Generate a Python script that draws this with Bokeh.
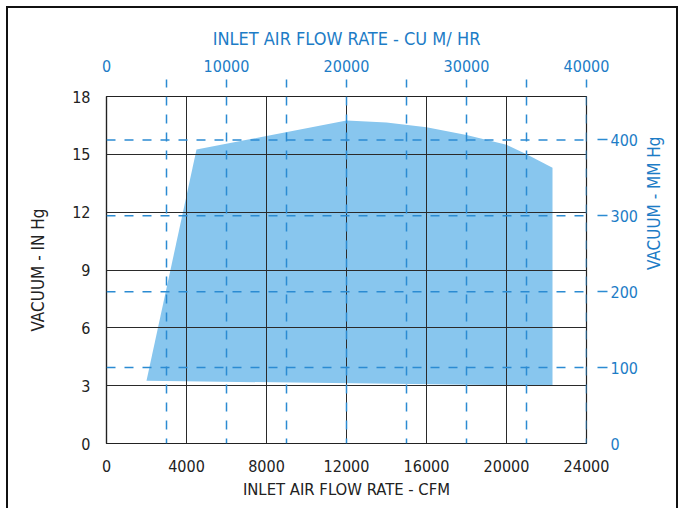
import math
from bokeh.plotting import figure
from bokeh.models import Range1d, LinearAxis, FixedTicker, Span
from bokeh.embed import file_html
from bokeh.resources import INLINE

# ---- data ----
cfm = [2000, 4500, 8000, 12000, 14000, 16000, 18000, 20000, 21000, 22300, 22300]
vacuum_inhg = [3.25, 15.25, 15.95, 16.75, 16.65, 16.4, 16.0, 15.5, 15.0, 14.3, 3.0]

cfm_ticks = [0, 4000, 8000, 12000, 16000, 20000, 24000]
inhg_ticks = [0, 3, 6, 9, 12, 15, 18]
cum_ticks = [0, 10000, 20000, 30000, 40000]
cum_lines = [5000, 10000, 15000, 20000, 25000, 30000, 35000, 40000]
mm_ticks = [0, 100, 200, 300, 400]
mm_lines = [100, 200, 300, 400]

FONT = "'DejaVu Sans Condensed', 'DejaVu Sans', sans-serif"
BLUE_TEXT = "#1d7cc6"
BLUE_LINE = "#2b8bd2"
FILL = "#88c6ee"

p = figure(frame_width=480, frame_height=347,
           min_border_left=98, min_border_right=88,
           min_border_top=88, min_border_bottom=65,
           x_range=Range1d(0, 24000), y_range=Range1d(0, 18),
           output_backend="svg", toolbar_location=None,
           background_fill_color="white", border_fill_color="white")
p.margin = (6, 0, 0, 6)
p.styles = {"border-top": "2px solid #111", "border-left": "2px solid #111",
            "border-right": "2px solid #111"}
p.extra_x_ranges = {"cum": Range1d(0, 40000)}
p.extra_y_ranges = {"mm": Range1d(0, 18 * 25.4)}

p.outline_line_color = "#222222"
p.outline_line_width = 1.2

# filled operating envelope
p.patch(cfm, vacuum_inhg, fill_color=FILL, line_color=None)

# black grid
p.xgrid.ticker = FixedTicker(ticks=cfm_ticks)
p.ygrid.ticker = FixedTicker(ticks=inhg_ticks)
for g in (p.xgrid, p.ygrid):
    g.grid_line_color = "#2a2a2a"
    g.grid_line_width = 1
    g.level = "guide"

# blue dashed metric lines
for v in cum_lines:
    p.add_layout(Span(location=v, dimension="height", x_range_name="cum",
                      line_color=BLUE_LINE, line_width=1.5, line_dash="9 9"))
for v in mm_lines:
    p.add_layout(Span(location=v, dimension="width", y_range_name="mm",
                      line_color=BLUE_LINE, line_width=1.5, line_dash="9 9"))

# bottom axis
xa = p.xaxis[0]
xa.ticker = FixedTicker(ticks=cfm_ticks)
xa.axis_label = "INLET AIR FLOW RATE - CFM"
xa.major_label_standoff = 16
xa.axis_label_standoff = 5

# left axis
ya = p.yaxis[0]
ya.ticker = FixedTicker(ticks=inhg_ticks)
ya.axis_label = "VACUUM - IN Hg"
ya.major_label_standoff = 16
ya.axis_label_standoff = 21

for ax in (xa, ya):
    ax.major_tick_out = 0
    ax.major_tick_in = 0
    ax.minor_tick_out = 0
    ax.minor_tick_in = 0
    ax.axis_line_color = "#222222"
    ax.axis_line_width = 1.2
    ax.major_label_text_color = "#222222"
    ax.axis_label_text_color = "#222222"

# top axis (cu m / hr)
ta = LinearAxis(x_range_name="cum",
                ticker=FixedTicker(ticks=cum_ticks, minor_ticks=cum_lines),
                axis_label="INLET AIR FLOW RATE - CU M/ HR")
ta.axis_line_color = None
ta.major_tick_out = 0
ta.major_tick_in = 0
ta.minor_tick_in = -9
ta.minor_tick_out = 17
ta.minor_tick_line_color = BLUE_LINE
ta.minor_tick_line_width = 1.5
ta.major_label_standoff = 8
ta.axis_label_standoff = 8
ta.major_label_text_color = BLUE_TEXT
ta.axis_label_text_color = BLUE_TEXT
p.add_layout(ta, "above")

# right axis (mm Hg)
ra = LinearAxis(y_range_name="mm",
                ticker=FixedTicker(ticks=mm_ticks, minor_ticks=mm_lines),
                axis_label="VACUUM - MM Hg")
ra.axis_line_color = None
ra.major_tick_out = 0
ra.major_tick_in = 0
ra.minor_tick_in = -11
ra.minor_tick_out = 21
ra.minor_tick_line_color = BLUE_LINE
ra.minor_tick_line_width = 1.5
ra.major_label_standoff = 3
ra.axis_label_standoff = 13
ra.axis_label_orientation = math.pi / 2
ra.major_label_text_color = BLUE_TEXT
ra.axis_label_text_color = BLUE_TEXT
p.add_layout(ra, "right")

for ax in (xa, ya, ta, ra):
    ax.major_label_text_font = FONT
    ax.axis_label_text_font = FONT
    ax.major_label_text_font_size = "16px"
    ax.axis_label_text_font_style = "normal"

xa.axis_label_text_font_size = "16.5px"
ya.axis_label_text_font_size = "17px"
ra.axis_label_text_font_size = "17px"
ta.axis_label_text_font_size = "18px"

open("out.html", "w").write(file_html(p, INLINE))
